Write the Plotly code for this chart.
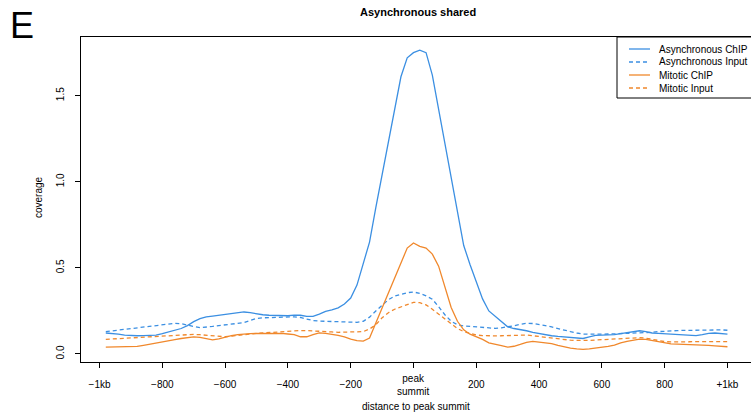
import plotly.graph_objects as go

# ---------------- data ----------------
positions = list(range(-980, 1001, 20))

async_chip = [
    0.122, 0.120, 0.115, 0.110, 0.107, 0.106, 0.107, 0.108, 0.110, 0.118,
    0.127, 0.135, 0.148, 0.165, 0.188, 0.205, 0.216, 0.220, 0.225, 0.230,
    0.237, 0.241, 0.244, 0.240, 0.233, 0.228, 0.225, 0.223, 0.221, 0.222,
    0.226, 0.225, 0.218, 0.218, 0.232, 0.248, 0.256, 0.268, 0.290, 0.325,
    0.400, 0.520, 0.650, 0.850, 1.040, 1.220, 1.410, 1.610, 1.720, 1.750,
    1.765, 1.750, 1.620, 1.420, 1.220, 1.020, 0.820, 0.630, 0.520, 0.420,
    0.320, 0.250, 0.220, 0.190, 0.158, 0.148, 0.143, 0.135, 0.125, 0.118,
    0.112, 0.106, 0.102, 0.100, 0.097, 0.093, 0.090, 0.100, 0.108, 0.110,
    0.110, 0.112, 0.118, 0.125, 0.130, 0.135, 0.130, 0.122, 0.120, 0.118,
    0.116, 0.113, 0.110, 0.106, 0.107, 0.113, 0.120, 0.122, 0.118, 0.115,
]

async_input = [
    0.130, 0.134, 0.139, 0.144, 0.148, 0.152, 0.157, 0.161, 0.164, 0.168,
    0.173, 0.178, 0.176, 0.170, 0.160, 0.153, 0.155, 0.160, 0.165, 0.169,
    0.173, 0.176, 0.182, 0.195, 0.206, 0.210, 0.211, 0.213, 0.215, 0.217,
    0.216, 0.212, 0.203, 0.194, 0.191, 0.190, 0.188, 0.186, 0.184, 0.184,
    0.184, 0.190, 0.214, 0.250, 0.285, 0.315, 0.336, 0.348, 0.356, 0.360,
    0.352, 0.338, 0.318, 0.275, 0.228, 0.190, 0.170, 0.163, 0.160, 0.159,
    0.155, 0.151, 0.149, 0.152, 0.157, 0.164, 0.172, 0.178, 0.177, 0.172,
    0.165, 0.157, 0.147, 0.138, 0.130, 0.122, 0.116, 0.115, 0.114, 0.114,
    0.116, 0.117, 0.118, 0.120, 0.121, 0.122, 0.124, 0.126, 0.130, 0.133,
    0.135, 0.136, 0.137, 0.138, 0.139, 0.140, 0.141, 0.141, 0.140, 0.138,
]

mitotic_chip = [
    0.040, 0.040, 0.040, 0.041, 0.042, 0.044, 0.050, 0.056, 0.061, 0.067,
    0.075, 0.083, 0.090, 0.095, 0.099, 0.096, 0.088, 0.082, 0.088, 0.098,
    0.106, 0.113, 0.117, 0.118, 0.119, 0.120, 0.122, 0.123, 0.120, 0.116,
    0.112, 0.100, 0.100, 0.112, 0.123, 0.120, 0.115, 0.108, 0.099, 0.086,
    0.078, 0.075, 0.093, 0.180, 0.275, 0.360, 0.440, 0.530, 0.615, 0.645,
    0.625, 0.615, 0.580, 0.510, 0.390, 0.270, 0.190, 0.140, 0.115, 0.100,
    0.085, 0.065, 0.055, 0.048, 0.040, 0.045, 0.056, 0.068, 0.073, 0.070,
    0.067, 0.060, 0.050, 0.040, 0.034, 0.030, 0.027, 0.030, 0.034, 0.038,
    0.044, 0.052, 0.065, 0.073, 0.080, 0.086, 0.085, 0.078, 0.070, 0.064,
    0.059, 0.057, 0.056, 0.056, 0.055, 0.052, 0.050, 0.047, 0.044, 0.042,
]

mitotic_input = [
    0.085, 0.087, 0.089, 0.090, 0.092, 0.094, 0.096, 0.098, 0.100, 0.103,
    0.106, 0.109, 0.112, 0.114, 0.114, 0.112, 0.109, 0.105, 0.102, 0.100,
    0.104, 0.109, 0.114, 0.118, 0.120, 0.122, 0.125, 0.128, 0.131, 0.134,
    0.135, 0.136, 0.136, 0.135, 0.133, 0.130, 0.128, 0.126, 0.126, 0.127,
    0.128, 0.130, 0.145, 0.170, 0.210, 0.240, 0.260, 0.272, 0.285, 0.300,
    0.298, 0.285, 0.260, 0.232, 0.205, 0.177, 0.148, 0.130, 0.118, 0.110,
    0.107, 0.105, 0.105, 0.106, 0.108, 0.110, 0.110, 0.110, 0.106, 0.101,
    0.097, 0.093, 0.088, 0.083, 0.080, 0.079, 0.078, 0.079, 0.081, 0.083,
    0.085, 0.087, 0.088, 0.090, 0.095, 0.095, 0.092, 0.085, 0.077, 0.072,
    0.070, 0.069, 0.070, 0.071, 0.072, 0.072, 0.072, 0.072, 0.072, 0.072,
]

series_names = ["Asynchronous ChIP", "Asynchronous Input", "Mitotic ChIP", "Mitotic Input"]

x_tick_vals = [-1000, -800, -600, -400, -200, 0, 200, 400, 600, 800, 1000]
x_tick_labels = ["\u22121kb", "\u2212800", "\u2212600", "\u2212400", "\u2212200",
                 "peak<br>summit", "200", "400", "600", "800", "+1kb"]
y_tick_vals = [0.0, 0.5, 1.0, 1.5]
y_tick_labels = ["0.0", "0.5", "1.0", "1.5"]

title_text = "Asynchronous shared"
panel_letter = "E"
x_title = "distance to peak summit"
y_title = "coverage"

# ---------------- style ----------------
BLUE = "#3b8fe2"
ORANGE = "#f0882c"
FONT = "Liberation Sans, Arial, Helvetica, sans-serif"
W, H = 751, 415
L, R, T, B = 81, 0, 37, 53
PW, PH = W - L - R, H - T - B


def px_x(px):
    return (px - L) / PW


def px_y(py):
    return (H - B - py) / PH


styles = [
    dict(color=BLUE, dash="solid"),
    dict(color=BLUE, dash="4px,3px"),
    dict(color=ORANGE, dash="solid"),
    dict(color=ORANGE, dash="4px,3px"),
]
values = [async_chip, async_input, mitotic_chip, mitotic_input]

fig = go.Figure()
for name, vals, st in zip(series_names, values, styles):
    fig.add_trace(go.Scatter(
        x=positions, y=vals, mode="lines", name=name,
        line=dict(color=st["color"], dash=st["dash"], width=1.3),
        showlegend=False,
    ))

# tick labels: multi-line label centred by annotation
axis_ticktext = [t if "<br>" not in t else "" for t in x_tick_labels]

fig.update_layout(
    width=W, height=H,
    margin=dict(l=L, r=R, t=T, b=B, pad=0),
    paper_bgcolor="white", plot_bgcolor="white",
    font=dict(family=FONT, size=10, color="black"),
    xaxis=dict(
        range=[-1059, 1075], showgrid=False, zeroline=False,
        showline=True, linecolor="black", linewidth=1, mirror=True,
        ticks="outside", ticklen=5, tickwidth=1, tickcolor="black",
        tickvals=x_tick_vals, ticktext=axis_ticktext,
        tickfont=dict(family=FONT, size=10, color="black"),
        ticklabelstandoff=8,
    ),
    yaxis=dict(
        range=[-0.0465, 1.841], showgrid=False, zeroline=False,
        showline=True, linecolor="black", linewidth=1, mirror=False,
        ticks="outside", ticklen=5, tickwidth=1, tickcolor="black",
        tickvals=y_tick_vals, ticktext=y_tick_labels, tickangle=-90,
        tickfont=dict(family=FONT, size=10, color="black"),
        ticklabelstandoff=7,
    ),
)

annotations = []
for v, t in zip(x_tick_vals, x_tick_labels):
    if "<br>" in t:
        annotations.append(dict(
            x=v, xref="x", y=px_y(385), yref="paper", text=t, showarrow=False,
            font=dict(family=FONT, size=10, color="black"), align="center",
            xanchor="center", yanchor="middle",
        ))

annotations += [
    dict(x=px_x(418), y=px_y(12), xref="paper", yref="paper", text="<b>%s</b>" % title_text,
         showarrow=False, font=dict(family=FONT, size=11, color="black"),
         xanchor="center", yanchor="middle"),
    dict(x=px_x(22), y=px_y(25), xref="paper", yref="paper", text=panel_letter,
         showarrow=False, font=dict(family=FONT, size=36, color="black"),
         xanchor="center", yanchor="middle"),
    dict(x=px_x(38), y=px_y(197), xref="paper", yref="paper", text=y_title,
         showarrow=False, textangle=-90, font=dict(family=FONT, size=10, color="black"),
         xanchor="center", yanchor="middle"),
    dict(x=px_x(416), y=px_y(406), xref="paper", yref="paper", text=x_title,
         showarrow=False, font=dict(family=FONT, size=10, color="black"),
         xanchor="center", yanchor="middle"),
]

# legend drawn as a framed key
shapes = [dict(type="rect", xref="paper", yref="paper",
               x0=px_x(617), x1=px_x(780), y0=px_y(98), y1=px_y(37),
               line=dict(color="black", width=1), fillcolor="white", layer="above")]
entry_y = [49, 62, 75, 88]
for name, st, ey in zip(series_names, styles, entry_y):
    shapes.append(dict(type="line", xref="paper", yref="paper",
                       x0=px_x(629), x1=px_x(650), y0=px_y(ey), y1=px_y(ey),
                       line=dict(color=st["color"], dash=st["dash"], width=1.3),
                       layer="above"))
    annotations.append(dict(x=px_x(657), y=px_y(ey), xref="paper", yref="paper",
                            text=name, showarrow=False,
                            font=dict(family=FONT, size=10, color="black"),
                            xanchor="left", yanchor="middle"))

fig.update_layout(annotations=annotations, shapes=shapes)
fig.write_html(
    "out.html",
    config={"displayModeBar": False},
    post_script="document.body.style.margin='0';document.body.style.overflow='hidden';",
)
